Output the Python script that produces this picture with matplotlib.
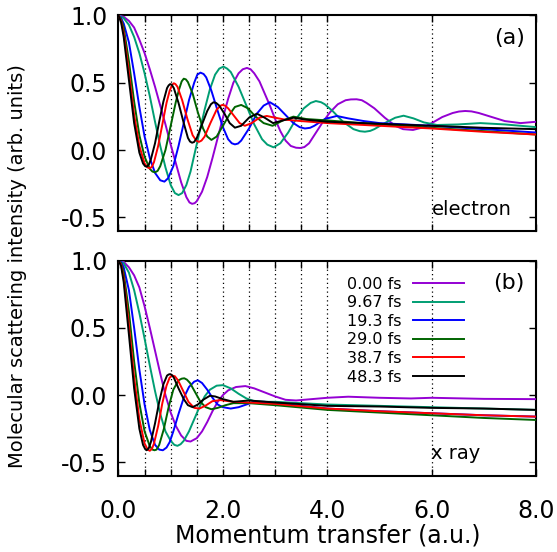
import matplotlib
matplotlib.use("Agg")
import matplotlib.pyplot as plt
from matplotlib.ticker import FormatStrFormatter

plt.rcParams['font.family'] = ['DejaVu Sans']
plt.rcParams['axes.unicode_minus'] = False

labels = ['0.00 fs', '9.67 fs', '19.3 fs', '29.0 fs', '38.7 fs', '48.3 fs']
colors = ['#9400d3', '#009e73', '#0000ff', '#006400', '#ff0000', '#000000']
grid_x = [0.5, 1.0, 1.5, 2.0, 2.5, 3.0, 3.5, 4.0, 6.0]

# ---- panel (a): electron ----
a0_x = [0, 0.1, 0.2, 0.3, 0.4, 0.5, 0.6, 0.7, 0.8, 0.9, 1.0, 1.1, 1.2, 1.3, 1.36, 1.41, 1.46, 1.5, 1.6, 1.7, 1.8, 1.9, 2.0,
        2.1, 2.2, 2.3, 2.38, 2.46, 2.53, 2.6, 2.7, 2.8, 2.9, 3.0, 3.1, 3.2, 3.3, 3.4, 3.48, 3.56, 3.65, 3.75, 3.9, 4.05, 4.2, 4.35,
        4.45, 4.56, 4.66, 4.75, 4.9, 5.1, 5.3, 5.45, 5.64, 5.85, 6.0, 6.2, 6.4, 6.52, 6.64, 6.76, 6.9, 7.15, 7.4, 7.7, 8.0]
a0_y = [1.0, 0.99, 0.96, 0.91, 0.82, 0.72, 0.60, 0.47, 0.33, 0.19, 0.04, -0.10, -0.24, -0.35, -0.39, -0.40, -0.395, -0.38, -0.31, -0.20, -0.06, 0.09, 0.24,
        0.38, 0.50, 0.57, 0.60, 0.61, 0.60, 0.57, 0.51, 0.42, 0.33, 0.23, 0.14, 0.07, 0.03, 0.017, 0.015, 0.022, 0.05, 0.11, 0.20, 0.28, 0.34, 0.37,
        0.376, 0.377, 0.37, 0.35, 0.31, 0.24, 0.18, 0.155, 0.149, 0.17, 0.20, 0.245, 0.275, 0.286, 0.29, 0.287, 0.275, 0.245, 0.215, 0.20, 0.21]
a1_x = [0, 0.1, 0.2, 0.3, 0.4, 0.5, 0.6, 0.7, 0.8, 0.9, 1.0, 1.08, 1.15, 1.22, 1.3, 1.38, 1.45, 1.55, 1.65, 1.75, 1.85, 1.93, 2.01,
        2.08, 2.15, 2.3, 2.45, 2.6, 2.75, 2.85, 2.97, 3.1, 3.25, 3.4, 3.55, 3.68, 3.78, 3.88, 3.95, 4.1, 4.3, 4.5, 4.62, 4.72, 4.82, 4.9, 5.1,
        5.3, 5.46, 5.65, 5.85, 6.1, 6.5, 6.93, 7.4, 8.0]
a1_y = [1.0, 0.98, 0.93, 0.84, 0.72, 0.57, 0.40, 0.21, 0.03, -0.13, -0.26, -0.32, -0.335, -0.32, -0.26, -0.16, -0.04, 0.13, 0.30, 0.45, 0.56, 0.605, 0.62,
        0.605, 0.58, 0.47, 0.33, 0.19, 0.08, 0.04, 0.02, 0.05, 0.13, 0.23, 0.31, 0.35, 0.364, 0.355, 0.34, 0.29, 0.21, 0.155, 0.14, 0.136, 0.142, 0.155, 0.20,
        0.24, 0.255, 0.235, 0.205, 0.186, 0.19, 0.20, 0.19, 0.17]
a2_x = [0, 0.05, 0.1, 0.2, 0.3, 0.4, 0.5, 0.6, 0.7, 0.8, 0.88, 0.95, 1.05, 1.15, 1.25, 1.35, 1.45, 1.51, 1.57, 1.63, 1.68, 1.78, 1.9,
        2.0, 2.1, 2.17, 2.23, 2.29, 2.35, 2.5, 2.65, 2.78, 2.9, 3.05, 3.2, 3.35, 3.47, 3.57, 3.67, 3.75, 3.95, 4.18, 4.4, 4.7, 5.0, 6.0, 7.0, 8.0]
a2_y = [1.0, 0.98, 0.94, 0.80, 0.57, 0.32, 0.10, -0.06, -0.17, -0.225, -0.235, -0.21, -0.12, 0.03, 0.20, 0.37, 0.50, 0.56, 0.575, 0.565, 0.54, 0.44, 0.29,
        0.17, 0.08, 0.05, 0.042, 0.048, 0.07, 0.16, 0.27, 0.33, 0.355, 0.32, 0.26, 0.20, 0.17, 0.16, 0.165, 0.18, 0.23, 0.253, 0.235, 0.215, 0.20, 0.18, 0.155, 0.13]
a3_x = [0, 0.05, 0.1, 0.2, 0.3, 0.4, 0.5, 0.6, 0.65, 0.7, 0.75, 0.8, 0.9, 1.0, 1.1, 1.16, 1.21, 1.25, 1.29, 1.33, 1.42, 1.52, 1.62, 1.7, 1.78,
        1.88, 2.0, 2.12, 2.23, 2.35, 2.48, 2.62, 2.78, 2.95, 3.15, 3.35, 3.6, 4.0, 5.0, 6.0, 7.0, 8.0]
a3_y = [1.0, 0.97, 0.91, 0.66, 0.36, 0.11, -0.05, -0.14, -0.16, -0.166, -0.155, -0.12, 0.0, 0.18, 0.36, 0.45, 0.51, 0.53, 0.525, 0.505, 0.42, 0.28, 0.16, 0.10, 0.075,
        0.10, 0.18, 0.26, 0.32, 0.335, 0.31, 0.25, 0.20, 0.18, 0.22, 0.248, 0.23, 0.22, 0.19, 0.165, 0.14, 0.115]
a4_x = [0, 0.05, 0.1, 0.2, 0.3, 0.4, 0.5, 0.56, 0.6, 0.64, 0.68, 0.76, 0.84, 0.92, 0.98, 1.03, 1.06, 1.09, 1.13, 1.22, 1.32, 1.42, 1.49, 1.54, 1.59, 1.65, 1.76,
        1.88, 1.95, 1.99, 2.04, 2.1, 2.22, 2.32, 2.42, 2.55, 2.7, 2.84, 3.0, 3.2, 3.5, 4.0, 5.0, 6.0, 7.0, 8.0]
a4_y = [1.0, 0.96, 0.87, 0.58, 0.26, 0.03, -0.10, -0.13, -0.136, -0.125, -0.09, 0.03, 0.19, 0.35, 0.44, 0.485, 0.496, 0.49, 0.47, 0.37, 0.23, 0.11, 0.07, 0.06, 0.07, 0.10, 0.20,
        0.30, 0.328, 0.335, 0.33, 0.31, 0.25, 0.20, 0.18, 0.20, 0.24, 0.253, 0.24, 0.225, 0.215, 0.20, 0.18, 0.16, 0.135, 0.115]
a5_x = [0, 0.05, 0.1, 0.2, 0.3, 0.4, 0.47, 0.51, 0.54, 0.58, 0.62, 0.7, 0.78, 0.86, 0.93, 0.96, 0.99, 1.02, 1.06, 1.15, 1.25, 1.33, 1.37, 1.41, 1.45, 1.5, 1.6,
        1.7, 1.77, 1.82, 1.87, 1.93, 2.03, 2.13, 2.23, 2.35, 2.5, 2.65, 2.8, 2.96, 3.15, 3.35, 3.6, 4.0, 5.0, 6.0, 7.0, 8.0]
a5_y = [1.0, 0.95, 0.84, 0.52, 0.20, -0.02, -0.10, -0.12, -0.124, -0.11, -0.07, 0.05, 0.21, 0.36, 0.46, 0.48, 0.49, 0.485, 0.46, 0.35, 0.20, 0.09, 0.063, 0.054, 0.06, 0.09, 0.19,
        0.29, 0.34, 0.355, 0.35, 0.33, 0.27, 0.20, 0.166, 0.18, 0.24, 0.27, 0.24, 0.20, 0.22, 0.24, 0.225, 0.21, 0.195, 0.18, 0.165, 0.155]

# ---- panel (b): x ray ----
b0_x = [0, 0.1, 0.2, 0.3, 0.4, 0.5, 0.6, 0.7, 0.8, 0.9, 1.0, 1.1, 1.2, 1.3, 1.38, 1.5, 1.6, 1.7, 1.8, 1.9, 2.0,
        2.1, 2.25, 2.43, 2.6, 2.8, 3.0, 3.2, 3.4, 3.7, 4.0, 4.4, 5.0, 5.6, 6.0, 7.0, 8.0]
b0_y = [1.0, 0.99, 0.95, 0.89, 0.80, 0.66, 0.50, 0.33, 0.16, 0.0, -0.13, -0.23, -0.30, -0.34, -0.345, -0.32, -0.27, -0.20, -0.12, -0.05, 0.0,
        0.035, 0.06, 0.067, 0.05, 0.02, -0.01, -0.035, -0.04, -0.03, -0.02, -0.012, -0.02, -0.025, -0.02, -0.028, -0.03]
b1_x = [0, 0.1, 0.2, 0.3, 0.4, 0.5, 0.6, 0.7, 0.8, 0.9, 1.0, 1.07, 1.13, 1.19, 1.25, 1.35, 1.45, 1.55, 1.65, 1.75, 1.88, 2.0, 2.15,
        2.3, 2.45, 2.6, 2.8, 3.0, 4.0, 5.0, 6.0, 7.0, 8.0]
b1_y = [1.0, 0.98, 0.91, 0.78, 0.61, 0.42, 0.22, 0.03, -0.14, -0.27, -0.34, -0.37, -0.377, -0.365, -0.34, -0.27, -0.18, -0.09, -0.01, 0.04, 0.07, 0.074, 0.05,
        0.01, -0.025, -0.045, -0.05, -0.05, -0.07, -0.08, -0.09, -0.10, -0.11]
b2_x = [0, 0.05, 0.1, 0.2, 0.3, 0.4, 0.5, 0.6, 0.7, 0.78, 0.85, 0.92, 0.98, 1.05, 1.15, 1.25, 1.35, 1.45, 1.52, 1.6, 1.7, 1.8,
        1.9, 2.0, 2.15, 2.3, 2.45, 2.6, 2.8, 3.0, 4.0, 5.0, 6.0, 7.0, 8.0]
b2_y = [1.0, 0.99, 0.95, 0.78, 0.50, 0.19, -0.07, -0.26, -0.37, -0.405, -0.41, -0.39, -0.35, -0.27, -0.14, -0.02, 0.06, 0.10, 0.11, 0.09, 0.04, -0.02,
        -0.07, -0.09, -0.10, -0.09, -0.07, -0.05, -0.05, -0.06, -0.10, -0.12, -0.135, -0.15, -0.16]
b3_x = [0, 0.05, 0.1, 0.2, 0.3, 0.4, 0.5, 0.6, 0.65, 0.69, 0.73, 0.78, 0.87, 0.96, 1.05, 1.15, 1.21, 1.26, 1.31, 1.37, 1.47, 1.57, 1.67, 1.78, 1.9,
        2.05, 2.2, 2.5, 3.0, 4.0, 5.0, 6.0, 7.0, 8.0]
b3_y = [1.0, 0.98, 0.91, 0.62, 0.25, -0.06, -0.27, -0.38, -0.405, -0.41, -0.405, -0.37, -0.25, -0.09, 0.04, 0.11, 0.122, 0.125, 0.115, 0.09, 0.02, -0.05, -0.09, -0.105, -0.095,
        -0.075, -0.06, -0.06, -0.075, -0.11, -0.13, -0.15, -0.17, -0.185]
b4_x = [0, 0.05, 0.1, 0.2, 0.3, 0.4, 0.5, 0.56, 0.6, 0.64, 0.68, 0.76, 0.84, 0.92, 0.98, 1.03, 1.08, 1.14, 1.24, 1.34, 1.45, 1.55, 1.66, 1.8,
        1.95, 2.2, 2.5, 3.0, 4.0, 5.0, 6.0, 7.0, 8.0]
b4_y = [1.0, 0.97, 0.87, 0.52, 0.13, -0.18, -0.36, -0.405, -0.414, -0.40, -0.36, -0.23, -0.06, 0.07, 0.13, 0.145, 0.14, 0.11, 0.03, -0.05, -0.095, -0.10, -0.08, -0.045,
        -0.037, -0.05, -0.055, -0.065, -0.10, -0.12, -0.135, -0.15, -0.16]
b5_x = [0, 0.05, 0.1, 0.2, 0.3, 0.4, 0.47, 0.51, 0.54, 0.58, 0.62, 0.7, 0.78, 0.86, 0.93, 0.96, 0.99, 1.02, 1.06, 1.15, 1.25, 1.33, 1.42, 1.52, 1.62,
        1.75, 1.85, 2.0, 2.2, 2.5, 3.0, 4.0, 5.0, 6.0, 7.0, 8.0]
b5_y = [1.0, 0.96, 0.84, 0.45, 0.05, -0.25, -0.37, -0.40, -0.41, -0.395, -0.35, -0.21, -0.05, 0.08, 0.145, 0.153, 0.156, 0.15, 0.13, 0.05, -0.03, -0.075, -0.09, -0.07, -0.035,
        -0.005, -0.01, -0.03, -0.05, -0.04, -0.055, -0.08, -0.085, -0.095, -0.10, -0.11]

curves_a = [(a0_x, a0_y), (a1_x, a1_y), (a2_x, a2_y), (a3_x, a3_y), (a4_x, a4_y), (a5_x, a5_y)]
curves_b = [(b0_x, b0_y), (b1_x, b1_y), (b2_x, b2_y), (b3_x, b3_y), (b4_x, b4_y), (b5_x, b5_y)]

fig = plt.figure(figsize=(5.57, 5.52), dpi=100)
ax1 = fig.add_axes([0.2127, 0.582, 0.750, 0.390])
ax2 = fig.add_axes([0.2127, 0.138, 0.750, 0.390])

def style(ax, show_xlabels):
    for g in grid_x:
        ax.axvline(g, color='black', lw=0.9, ls=(0, (1, 2.5)), zorder=1)
    ax.set_xlim(0, 8)
    ax.set_ylim(-0.6, 1.0)
    ax.set_xticks([0, 2, 4, 6, 8])
    ax.set_xticks([0.5, 1.0, 1.5, 2.5, 3.0, 3.5], minor=True)
    ax.set_yticks([-0.5, 0.0, 0.5, 1.0])
    ax.tick_params(which='both', direction='in', top=True, right=True, width=1.0, length=5, labelsize=17)
    ax.tick_params(axis='y', pad=8)
    ax.tick_params(axis='x', pad=17)
    ax.yaxis.set_major_formatter(FormatStrFormatter('%.1f'))
    ax.xaxis.set_major_formatter(FormatStrFormatter('%.1f'))
    if not show_xlabels:
        ax.tick_params(labelbottom=False)
    for s in ax.spines.values():
        s.set_linewidth(1.5)

for ax, curves in [(ax1, curves_a), (ax2, curves_b)]:
    style(ax, ax is ax2)
    for (xs, ys), c, lab in zip(curves, colors, labels):
        ax.plot(xs, ys, color=c, lw=1.4, label=lab, zorder=3)

ax1.text(0.973, 0.895, '(a)', transform=ax1.transAxes, ha='right', va='center', fontsize=16)
ax1.text(0.75, 0.073, 'electron', transform=ax1.transAxes, ha='left', va='baseline', fontsize=14)
ax2.text(0.973, 0.895, '(b)', transform=ax2.transAxes, ha='right', va='center', fontsize=16)
ax2.text(0.748, 0.08, 'x ray', transform=ax2.transAxes, ha='left', va='baseline', fontsize=14)

ax2.legend(loc='upper left', bbox_to_anchor=(0.547, 0.925), frameon=False, fontsize=11.5,
           markerfirst=False, handlelength=3.25, handletextpad=0.69, labelspacing=0.225,
           borderpad=0.0, borderaxespad=0.0)

ax2.set_xlabel('Momentum transfer (a.u.)', fontsize=17, labelpad=0)
fig.text(0.032, 0.518, 'Molecular scattering intensity (arb. units)', rotation=90,
         ha='center', va='center', fontsize=14)

fig.savefig('out.png', dpi=100)
